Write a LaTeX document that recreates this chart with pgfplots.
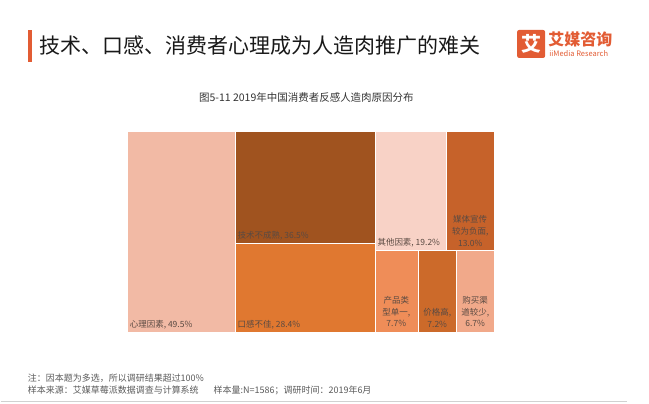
\documentclass[border=0pt]{standalone}
\usepackage{pgfplots}
\pgfplotsset{compat=1.18}
\usepackage{fontspec}
\setmainfont{Noto Sans CJK SC}
\definecolor{cA}{HTML}{F2BAA5}
\definecolor{cB}{HTML}{A0531F}
\definecolor{cC}{HTML}{E07830}
\definecolor{cD}{HTML}{F8D2C6}
\definecolor{cE}{HTML}{C6622A}
\definecolor{cF}{HTML}{EF8D58}
\definecolor{cG}{HTML}{CC6A2A}
\definecolor{cH}{HTML}{F1A98A}
\definecolor{logo}{HTML}{E25C34}
\definecolor{lbl}{HTML}{5A4A42}
\begin{document}
\begin{tikzpicture}
\begin{axis}[
  width=649pt, height=404pt, scale only axis,
  xmin=0, xmax=649, ymin=0, ymax=404, y dir=reverse,
  hide axis, clip=false,
]
\path (rel axis cs:0,0) rectangle (rel axis cs:1,1);
% treemap: 心理因素 49.5
\addplot[fill=cA, draw=white, line width=1pt] coordinates {(127,132) (235,132) (235,333) (127,333)} -- cycle;
% 技术不成熟 36.5
\addplot[fill=cB, draw=white, line width=1pt] coordinates {(235,132) (375,132) (375,244) (235,244)} -- cycle;
% 口感不佳 28.4
\addplot[fill=cC, draw=white, line width=1pt] coordinates {(235,244) (375,244) (375,333) (235,333)} -- cycle;
% 其他因素 19.2
\addplot[fill=cD, draw=white, line width=1pt] coordinates {(375,132) (446,132) (446,251) (375,251)} -- cycle;
% 媒体宣传较为负面 13.0
\addplot[fill=cE, draw=white, line width=1pt] coordinates {(446,132) (494,132) (494,251) (446,251)} -- cycle;
% 产品类型单一 7.7
\addplot[fill=cF, draw=white, line width=1pt] coordinates {(375,251) (418,251) (418,333) (375,333)} -- cycle;
% 价格高 7.2
\addplot[fill=cG, draw=white, line width=1pt] coordinates {(418,251) (456,251) (456,333) (418,333)} -- cycle;
% 购买渠道较少 6.7
\addplot[fill=cH, draw=white, line width=1pt] coordinates {(456,251) (494,251) (494,333) (456,333)} -- cycle;

% labels
\begin{scope}[every node/.style={text=lbl, font=\fontsize{8.5}{11.8}\selectfont, inner sep=0pt}]
\node[anchor=west] at (axis cs:129,325) {心理因素, 49.5\%};
\node[anchor=west] at (axis cs:237,236) {技术不成熟, 36.5\%};
\node[anchor=west] at (axis cs:237,325) {口感不佳, 28.4\%};
\node[anchor=west] at (axis cs:377,243) {其他因素, 19.2\%};
\node[align=center] at (axis cs:470,231) {媒体宣传\\较为负面,\\13.0\%};
\node[align=center] at (axis cs:396,312) {产品类\\型单一,\\7.7\%};
\node[align=center] at (axis cs:437,318) {价格高,\\7.2\%};
\node[align=center] at (axis cs:475,312) {购买渠\\道较少,\\6.7\%};
\end{scope}

% header
\fill[logo] (axis cs:27,30) rectangle (axis cs:31,62);
\node[anchor=west, inner sep=0pt, font=\fontsize{21}{25}\selectfont, text=black!90] at (axis cs:39,46) {技术、口感、消费者心理成为人造肉推广的难关};
\node[fill=logo, text=white, minimum width=28pt, minimum height=28pt, inner sep=0pt, rounded corners=2pt, font=\fontsize{20}{22}\bfseries\selectfont] at (axis cs:531,44) {艾};
\node[anchor=west, inner sep=0pt, text=logo, font=\fontsize{16}{18}\bfseries\selectfont] at (axis cs:548,39) {艾媒咨询};
\node[anchor=west, inner sep=0pt, text=logo, font=\fontsize{7.5}{9}\selectfont] at (axis cs:549,54) {iiMedia Research};

% subtitle
\node[inner sep=0pt, text=black!80, font=\fontsize{10.5}{12}\selectfont] at (axis cs:306,98) {图5-11 2019年中国消费者反感人造肉原因分布};

% footer
\node[anchor=west, inner sep=0pt, text=black!65, font=\fontsize{9}{10}\selectfont] at (axis cs:27,379) {注：因本题为多选，所以调研结果超过100\%};
\node[anchor=west, inner sep=0pt, text=black!65, font=\fontsize{9}{10}\selectfont] at (axis cs:27,391) {样本来源：艾媒草莓派数据调查与计算系统};
\node[anchor=west, inner sep=0pt, text=black!65, font=\fontsize{9}{10}\selectfont] at (axis cs:213,391) {样本量:N=1586；调研时间：2019年6月};
\draw[black!18, line width=1.5pt] (axis cs:0,402) -- (axis cs:627,402);
\end{axis}
\end{tikzpicture}
\end{document}
